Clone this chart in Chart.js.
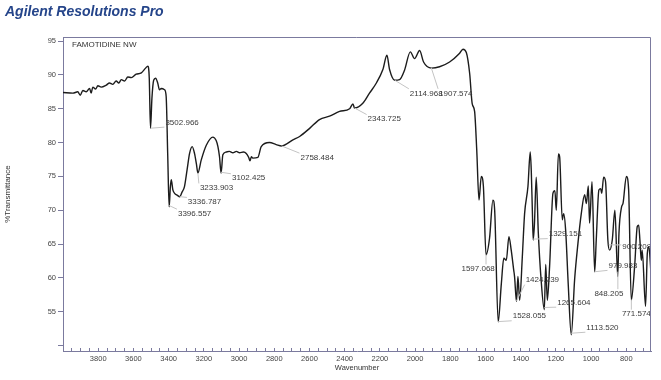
<!DOCTYPE html>
<html><head><meta charset="utf-8">
<script src="https://cdn.jsdelivr.net/npm/chart.js@4.4.0/dist/chart.umd.min.js"></script>
<style>
html,body{margin:0;padding:0;background:#fff;}
#wrap{position:relative;width:661px;height:380px;}
#title{position:absolute;left:5px;top:2px;font:italic bold 14px "Liberation Sans",Arial,sans-serif;color:#25458a;line-height:18px;}
canvas{display:block;}
</style></head><body>
<div id="wrap"><canvas id="c" width="661" height="380"></canvas><div id="title">Agilent Resolutions Pro</div></div>
<script>
// ---- data ----
const sampleName = 'FAMOTIDINE NW';
const wavenumber = [
 4000,3944,3916,3902,3887,3868,3849,3840,3831,3815,
 3802,3783,3754,3736,3717,3698,3683,3669,3650,3632,
 3612,3584,3555,3531,3518,3510,3503,3495,3485,3474,
 3462,3452,3442,3423,3414,3405,3397,3390,3385,3376,
 3366,3350,3337,3325,3310,3295,3281,3266,3253,3242,
 3234,3215,3186,3149,3130,3120,3111,3102,3092,3073,
 3055,3035,3015,2997,2975,2959,2945,2938,2930,2922,
 2893,2874,2827,2789,2758,2694,2656,2599,2543,2486,
 2429,2372,2353,2344,2297,2259,2220,2183,2160,2145,
 2115,2088,2060,2027,2003,1974,1952,1907,1861,1804,
 1747,1728,1709,1690,1676,1662,1650,1637,1624,1612,
 1597,1577,1558,1548,1528,1510,1496,1482,1467,1454,
 1440,1435,1424,1416,1406,1391,1378,1359,1346,1340,
 1334,1329,1322,1312,1300,1285,1266,1258,1249,1236,
 1217,1206,1198,1186,1179,1164,1156,1145,1130,1113,
 1094,1075,1056,1037,1027,1016,1009,995,980,971,
 956,946,940,929,918,905,895,880,865,849,
 842,827,819,800,787,772,753,738,730,723,
 715,710,691,681,672,660
];
const transmittance = [
 87.4,87.3,87.5,87.0,87.7,87.5,88.0,87.3,88.2,87.9,
 88.4,88.2,88.5,88.8,88.6,89.1,88.8,89.3,89.1,89.7,
 89.6,90.1,90.3,91.0,91.3,89.5,82.1,86.5,89.2,89.5,
 88.8,87.8,88.0,87.8,86.8,78.0,70.5,73.5,74.5,73.0,
 72.5,72.2,72.0,72.6,73.5,76.0,78.4,79.4,78.4,76.8,
 75.5,77.4,79.6,80.8,80.3,79.4,77.9,75.5,78.2,78.6,
 78.7,78.5,78.7,78.5,78.6,78.4,77.8,77.3,77.9,77.7,
 77.8,79.4,80.0,79.7,79.5,80.4,80.9,82.1,83.4,83.9,
 84.6,85.0,85.7,85.1,85.8,87.3,88.8,90.8,92.9,90.8,
 89.2,89.3,90.7,93.4,92.4,93.6,91.9,91.0,91.2,91.9,
 93.2,93.8,93.3,90.2,85.8,84.6,79.0,71.5,75.0,73.5,
 63.4,65.9,71.5,70.0,53.5,59.2,62.9,62.6,66.1,64.1,
 61.2,60.2,56.5,60.2,56.7,63.1,69.5,73.5,78.6,75.8,
 70.0,65.6,68.0,74.9,66.6,60.0,55.3,62.0,56.7,61.7,
 72.5,72.9,70.0,78.3,77.9,68.6,69.5,67.1,59.0,51.6,
 59.7,65.1,69.5,72.3,71.0,73.6,68.1,74.2,60.9,65.6,
 73.0,73.2,72.5,74.9,74.2,65.6,64.1,65.6,70.0,60.2,
 66.6,70.5,71.0,75.0,73.0,56.7,61.7,67.6,67.8,65.6,
 62.6,64.1,55.8,63.6,64.6,60.7
];
const peakLabels = ['3502.966','3396.557','3336.787','3233.903','3102.425','2758.484','2343.725',
 '2114.968','1907.574','1597.068','1528.055','1424.239','1329.151','1265.604','1113.520',
 '979.983','900.208','848.205','771.574'];
const xTickLabels = [3800,3600,3400,3200,3000,2800,2600,2400,2200,2000,1800,1600,1400,1200,1000,800];
const yTickValues = [50,55,60,65,70,75,80,85,90,95];
const yTickLabels = [55,60,65,70,75,80,85,90,95];

// ---- layout / style (not data) ----
const labelOffsets = [[31.6,-5.6],[25.4,8.1],[24.8,5.3],[18.7,15],[27.6,6],[35.6,11.7],[29.7,11],
 [31.4,13],[24.4,25.3],[-7.9,14.3],[31.2,-5.3],[25.9,-20.9],[32.2,-5],[29.5,-4.8],[31.3,-5.5],
 [28.3,-5.9],[28,2],[-9,22],[5,14.7]];
const FONT = '"Liberation Sans", Arial, sans-serif';
const frameColor = '#7b7a9e';
Chart.defaults.font.family = FONT;

const points = wavenumber.map((w,i)=>({x:w,y:transmittance[i]}));
function interp(w){
  for(let i=0;i<wavenumber.length-1;i++){
    const a=wavenumber[i], b=wavenumber[i+1];
    if(w<=a && w>=b){ const t=(a-w)/(a-b); return transmittance[i]+t*(transmittance[i+1]-transmittance[i]); }
  }
  return transmittance[transmittance.length-1];
}
const xMinor = [];
for(let v=700; v<4000; v+=50) xMinor.push(v);

const annot = {
  id:'annot',
  afterDatasetsDraw(chart){
    const {ctx, chartArea:a, scales:{x,y}} = chart;
    ctx.save();
    ctx.strokeStyle = frameColor; ctx.lineWidth = 1;
    ctx.beginPath();
    ctx.moveTo(a.left, a.top+0.5); ctx.lineTo(a.right-0.5, a.top+0.5); ctx.lineTo(a.right-0.5, a.bottom);
    ctx.stroke();
    ctx.font = '8px ' + FONT; ctx.fillStyle = '#333'; ctx.textBaseline = 'middle'; ctx.textAlign='left';
    ctx.fillText(sampleName, a.left+9, a.top+8);
    ctx.beginPath(); ctx.rect(a.left, a.top, a.right-a.left-1, a.bottom-a.top); ctx.clip();
    ctx.textAlign = 'center';
    peakLabels.forEach((lab,i)=>{
      const wn = parseFloat(lab), t = interp(wn);
      const px = x.getPixelForValue(wn), py = y.getPixelForValue(t);
      const [dx,dy] = labelOffsets[i];
      const cx = px+dx, cy = py+dy;
      const w = ctx.measureText(lab).width, h = 7;
      const bx0=cx-w/2-1, bx1=cx+w/2+1, by0=cy-h/2-1, by1=cy+h/2+1;
      const ex=Math.min(Math.max(px,bx0),bx1), ey=Math.min(Math.max(py,by0),by1);
      ctx.strokeStyle = '#c4c4c4'; ctx.lineWidth = 1;
      ctx.beginPath(); ctx.moveTo(px,py); ctx.lineTo(ex,ey); ctx.stroke();
      ctx.fillStyle = '#3a3a3a';
      ctx.fillText(lab, cx, cy);
    });
    ctx.restore();
  }
};

new Chart(document.getElementById('c'), {
  type:'scatter',
  data:{datasets:[{data:points, showLine:true, borderColor:'#1c1c1c', borderWidth:1.4,
    pointRadius:0, pointHoverRadius:0, cubicInterpolationMode:'monotone', fill:false}]},
  options:{
    responsive:false, animation:false, events:[],
    layout:{padding:{top:37,right:10,left:0,bottom:0}},
    plugins:{legend:{display:false}, tooltip:{enabled:false}},
    scales:{
      x:{type:'linear', reverse:true, min:660, max:4000,
        afterBuildTicks:s=>{ s.ticks = xMinor.map(v=>({value:v})); },
        afterFit:s=>{ s.height = 29; },
        ticks:{autoSkip:false, maxRotation:0, padding:6, color:'#444', font:{size:7.5},
          callback:v=> xTickLabels.includes(v) ? String(v) : ''},
        grid:{drawOnChartArea:false, drawTicks:true, tickLength:-3, color:frameColor},
        border:{display:true, color:frameColor, width:1},
        title:{display:true, text:'Wavenumber', color:'#333', font:{size:7.5}, padding:{top:2,bottom:7.5}}
      },
      y:{type:'linear', min:49.2, max:95.6,
        afterBuildTicks:s=>{ s.ticks = yTickValues.map(v=>({value:v})); },
        afterFit:s=>{ s.width = 63; },
        ticks:{autoSkip:false, padding:2, color:'#444', font:{size:7.5},
          callback:v=> yTickLabels.includes(v) ? String(v) : ''},
        grid:{drawOnChartArea:false, drawTicks:true, tickLength:5, color:frameColor},
        border:{display:true, color:frameColor, width:1},
        title:{display:true, text:'%Transmittance', color:'#333', font:{size:8}, padding:{top:3,bottom:0}}
      }
    }
  },
  plugins:[annot]
});
</script>
</body></html>
